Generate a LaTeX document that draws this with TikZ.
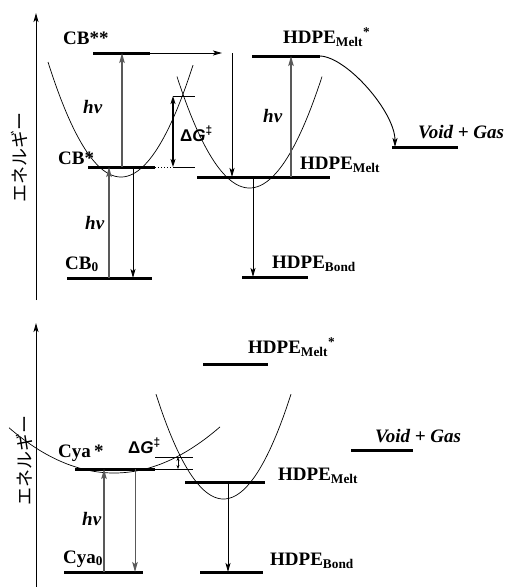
\documentclass[tikz,border=0pt]{standalone}
\usepackage{fontspec}
\setmainfont{Liberation Serif}
\newfontfamily\lsans{Liberation Sans}
\newfontfamily\jpfont{Noto Sans CJK JP}
\usetikzlibrary{arrows.meta}
\begin{document}
\begin{tikzpicture}[x=1pt,y=-1pt,
  level/.style={line width=3pt},
  thinline/.style={line width=0.8pt},
  curve/.style={line width=0.7pt},
  arr/.style={line width=0.9pt,-{Stealth[length=9pt,width=5pt,inset=2pt]}},
  garr/.style={line width=1.4pt,draw=black!65,-{Stealth[length=10pt,width=5.5pt,inset=2pt,fill=black!65]}},
  dgarr/.style={line width=1.4pt,{Stealth[length=8pt,width=5pt,inset=2pt]}-{Stealth[length=8pt,width=5pt,inset=2pt]}},
  lbl/.style={font=\fontsize{19}{21}\selectfont\bfseries, anchor=base west, inner sep=0pt},
  hv/.style={font=\fontsize{19}{21}\selectfont\bfseries\itshape, anchor=base west, inner sep=0pt},
  dg/.style={font=\fontsize{17}{19}\selectfont\lsans\bfseries, anchor=base west, inner sep=0pt},
  jp/.style={font=\fontsize{18}{20}\selectfont\jpfont, rotate=90, inner sep=0pt}
]
\useasboundingbox (0,0) rectangle (507,587);

% ================= TOP PANEL =================
\coordinate (axAb) at (36,300); \coordinate (axAt) at (36,13);
\draw[arr] (axAb) -- (axAt);
\node[jp] (jpA) at (19,157) {エネルギー};

% levels
\coordinate (cbssL) at (93,53);  \coordinate (cbssR) at (150,53);
\coordinate (cbsL) at (88,167);  \coordinate (cbsR) at (155,167);
\coordinate (cb0L) at (67,278);  \coordinate (cb0R) at (152,278);
\coordinate (hmsL) at (252,56);  \coordinate (hmsR) at (320,56);
\coordinate (hmL) at (197,177);  \coordinate (hmR) at (330,177);
\coordinate (hbL) at (242,277);  \coordinate (hbR) at (308,277);
\coordinate (vgL) at (392,147);  \coordinate (vgR) at (458,147);
\draw[level] (cbssL) -- (cbssR);
\draw[level] (cbsL) -- (cbsR);
\draw[level] (cb0L) -- (cb0R);
\draw[level] (hmsL) -- (hmsR);
\draw[level] (hmL) -- (hmR);
\draw[level] (hbL) -- (hbR);
\draw[level] (vgL) -- (vgR);

% dG construction
\coordinate (dotE) at (173,167); \coordinate (thinE) at (195,167);
\coordinate (dgT) at (173,96); \coordinate (dgTR) at (195,96);
\draw[line width=1pt,dotted] (cbsR) -- (dotE);
\draw[thinline] (dotE) -- (thinE);
\draw[thinline] (dgT) -- (dgTR);
\draw[dgarr] (dotE) -- (dgT);

% parabolas
\draw[curve] plot[domain=48:193,samples=80,smooth] (\x,{177-0.02158*(\x-121)^2});
\draw[curve] plot[domain=177:322,samples=80,smooth] (\x,{188-0.0212*(\x-249.5)^2});

% arrows
\coordinate (hzE) at (222,53);
\draw[arr] (cbssR) -- (hzE);
\coordinate (vdS) at (232,53); \coordinate (vdE) at (232,177);
\draw[arr] (vdS) -- (vdE);
\coordinate (g1a) at (122,167); \coordinate (g1b) at (122,53);
\draw[garr] (g1a) -- (g1b);
\coordinate (g2a) at (109,278); \coordinate (g2b) at (109,167);
\draw[garr] (g2a) -- (g2b);
\coordinate (d1a) at (133,167); \coordinate (d1b) at (133,278);
\draw[arr] (d1a) -- (d1b);
\coordinate (g3a) at (291,177); \coordinate (g3b) at (291,56);
\draw[garr] (g3a) -- (g3b);
\coordinate (d2a) at (253,177); \coordinate (d2b) at (253,277);
\draw[arr] (d2a) -- (d2b);
\coordinate (cvE) at (395,147);
\draw[arr] (hmsR) .. controls (347,57) and (395,112) .. (cvE);

% labels
\node[lbl] (lcbss) at (63,44) {CB**};
\node[lbl] (lcbs) at (58,164) {CB*};
\node[lbl] (lcb0) at (65,269) {CB\textsubscript{0}};
\node[hv] (hvA1) at (83,113) {hν};
\node[hv] (hvA2) at (85,229) {hν};
\node[dg] (dgA) at (180,141) {Δ\textit{G}\textsuperscript{‡}};
\node[lbl] (lhmsA) at (283,43) {HDPE\textsubscript{Melt}\textsuperscript{*}};
\node[hv] (hvA3) at (263,122) {hν};
\node[hv] (vgA) at (418,138) {Void + Gas};
\node[lbl] (lhmA) at (300,169) {HDPE\textsubscript{Melt}};
\node[lbl] (lhbA) at (272,268) {HDPE\textsubscript{Bond}};

% ================= BOTTOM PANEL =================
\coordinate (axBb) at (36,587); \coordinate (axBt) at (36,323);
\draw[arr] (axBb) -- (axBt);
\node[jp] (jpB) at (24,460) {エネルギー};

\coordinate (bhmsL) at (203,364); \coordinate (bhmsR) at (268,364);
\coordinate (bvgL) at (351,450);  \coordinate (bvgR) at (413,450);
\coordinate (bhmL) at (185,482);  \coordinate (bhmR) at (265,482);
\coordinate (bhbL) at (200,572);  \coordinate (bhbR) at (263,572);
\coordinate (cyasL) at (75,469);  \coordinate (cyasR) at (155,469);
\coordinate (cya0L) at (64,572);  \coordinate (cya0R) at (143,572);
\draw[level] (bhmsL) -- (bhmsR);
\draw[level] (bvgL) -- (bvgR);
\draw[level] (bhmL) -- (bhmR);
\draw[level] (bhbL) -- (bhbR);
\draw[level] (cyasL) -- (cyasR);
\draw[level] (cya0L) -- (cya0R);

\coordinate (bthinE) at (193,469);
\coordinate (bdgTL) at (155,457); \coordinate (bdgTR) at (193,457);
\draw[thinline] (cyasR) -- (bthinE);
\draw[thinline] (bdgTL) -- (bdgTR);
\coordinate (sdA) at (178,469); \coordinate (sdB) at (178,457);
\draw[line width=0.9pt,{Stealth[length=4pt,width=3pt]}-{Stealth[length=4pt,width=3pt]}] (sdA) -- (sdB);

\draw[curve] plot[domain=9:220,samples=80,smooth] (\x,{473-0.0041*(\x-114)^2});
\draw[curve] plot[domain=156:291,samples=80,smooth] (\x,{499-0.023*(\x-223.5)^2});

\coordinate (bg1a) at (104,572); \coordinate (bg1b) at (104,469);
\draw[garr] (bg1a) -- (bg1b);
\coordinate (bg2a) at (135,469); \coordinate (bg2b) at (135,572);
\draw[garr,line width=1pt] (bg2a) -- (bg2b);
\coordinate (bd1a) at (228,482); \coordinate (bd1b) at (228,572);
\draw[arr] (bd1a) -- (bd1b);

\node[lbl] (lhmsB) at (248,353) {HDPE\textsubscript{Melt}\textsuperscript{*}};
\node[hv] (vgB) at (375,442) {Void + Gas};
\node[lbl] (lhmB) at (278,480) {HDPE\textsubscript{Melt}};
\node[lbl] (lhbB) at (270,565) {HDPE\textsubscript{Bond}};
\node[lbl] (lcyas) at (58,457) {Cya\,*};
\node[dg] (dgB) at (128,453) {Δ\textit{G}\textsuperscript{‡}};
\node[hv] (hvB) at (82,525) {hν};
\node[lbl] (lcya0) at (63,563) {Cya\textsubscript{0}};
\end{tikzpicture}
\end{document}
